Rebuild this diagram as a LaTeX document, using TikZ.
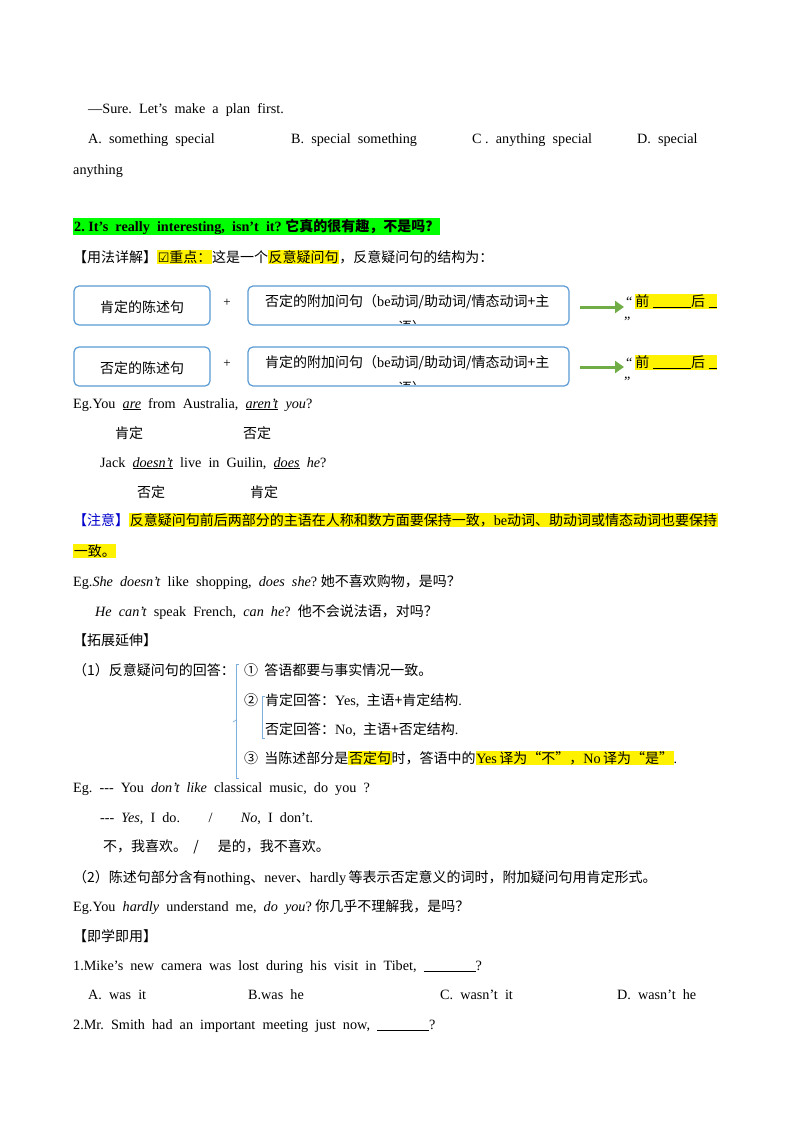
\documentclass[tikz,border=0pt]{standalone}
\usepackage{fontspec}
\setmainfont{Liberation Serif}
\newfontfamily\cjk{Noto Sans CJK SC}
\newfontfamily\dv{DejaVu Sans}
\newcommand\zh[1]{{\cjk\fontsize{14}{16}\selectfont #1}}
\newcommand\hly[1]{{\setlength\fboxsep{0.6pt}\colorbox{yellow}{#1}}}
\newcommand\dsh{{-}{-}{-}}
\usetikzlibrary{arrows.meta}
\definecolor{boxblue}{RGB}{91,155,213}
\definecolor{arrgreen}{RGB}{112,173,71}
\definecolor{hlgreen}{RGB}{0,255,0}
\tikzset{
 t/.style={anchor=base west,inner sep=0pt,font=\fontsize{14.2}{16}\selectfont},
 box/.style={draw=boxblue,line width=1.2pt,rounded corners=5pt},
 arr/.style={draw=arrgreen,line width=3pt,-{Triangle[length=9pt,width=12pt]}},
 brk/.style={draw=boxblue!80,line width=0.7pt}
}
\begin{document}
\begin{tikzpicture}[x=1pt,y=-1pt]
\useasboundingbox[fill=white] (0,0) rectangle (800,1132);
\node[t] (l1) at (88,113) {—Sure.\ \ Let's\ \ make\ \ a\ \ plan\ \ first.};
\node[t] (o1) at (88,143) {A.\ \ something\ \ special};
\node[t] (o2) at (291,143) {B.\ \ special\ \ something};
\node[t] (o3) at (472,143) {C\ .\ \ anything\ \ special};
\node[t] (o4) at (637,143) {D.\ \ special};
\node[t] (o5) at (73,174) {anything};
\node[t,fill=hlgreen,inner sep=1pt] (title) at (73,231) {\textbf{2.\ It's\ \ really\ \ interesting,\ \ isn't\ \ it?\ }{\cjk\bfseries\fontsize{14}{16}\selectfont 它真的很有趣，不是吗？}};
\node[t] (usage) at (73,262) {\zh{【用法详解】}\hly{{\dv\fontsize{13}{14}\selectfont ☑}\zh{重点：}}\zh{这是一个}\hly{\zh{反意疑问句}}\zh{，反意疑问句的结构为：}};
% row 1
\draw[box] (74,286) rectangle (210,325);
\node (b1) at (142,307) {\zh{肯定的陈述句}};
\node (p1) at (227,303) {\fontsize{13}{14}\selectfont +};
\draw[box] (248,286) rectangle (569,325);
\begin{scope}
\clip (250,288) rectangle (567,323);
\node[t] (b2) at (265,306) {\zh{否定的附加问句（}be\zh{动词/助动词/情态动词+主}};
\node[t] (b2b) at (398,332) {\zh{语）}};
\end{scope}
\coordinate (a1s) at (580,307);
\coordinate (a1e) at (624,307);
\draw[arr] (a1s) -- (a1e);
\node[t] (q1) at (626,306) {“\,\hly{\zh{前}\ \underline{\hspace{38pt}}\zh{后}\ \underline{\hspace{8pt}}}};
\node[t] (q1b) at (624,326) {”};
% row 2
\draw[box] (74,347) rectangle (210,386);
\node (c1) at (142,368) {\zh{否定的陈述句}};
\node (p2) at (227,364) {\fontsize{13}{14}\selectfont +};
\draw[box] (248,347) rectangle (569,386);
\begin{scope}
\clip (250,349) rectangle (567,384);
\node[t] (c2) at (265,367) {\zh{肯定的附加问句（}be\zh{动词/助动词/情态动词+主}};
\node[t] (c2b) at (398,393) {\zh{语）}};
\end{scope}
\coordinate (a2s) at (580,367);
\coordinate (a2e) at (624,367);
\draw[arr] (a2s) -- (a2e);
\node[t] (q2) at (626,367) {“\,\hly{\zh{前}\ \underline{\hspace{38pt}}\zh{后}\ \underline{\hspace{8pt}}}};
\node[t] (q2b) at (624,386) {”};
% examples
\node[t] (e1) at (73,408) {Eg.You\ \ \underline{\textit{are}}\ \ from\ \ Australia,\ \ \underline{\textit{aren't}}\ \ \textit{you}?};
\node[t] (e1a) at (115,438) {\zh{肯定}};
\node[t] (e1b) at (243,438) {\zh{否定}};
\node[t] (e2) at (100,467) {Jack\ \ \underline{\textit{doesn't}}\ \ live\ \ in\ \ Guilin,\ \ \underline{\textit{does}}\ \ \textit{he}?};
\node[t] (e2a) at (137,497) {\zh{否定}};
\node[t] (e2b) at (250,497) {\zh{肯定}};
\node[t] (n1) at (73,525) {{\cjk\color{blue!80!black}\fontsize{14}{16}\selectfont 【注意】}\hly{\zh{反意疑问句前后两部分的主语在人称和数方面要保持一致，}be\zh{动词、助动词或情态动词也要保持}}};
\node[t] (n2) at (73,556) {\hly{\zh{一致。}}};
\node[t] (e3) at (73,586) {Eg.\textit{She\ \ doesn't}\ \ like\ \ shopping,\ \ \textit{does\ \ she}?\ \zh{她不喜欢购物，是吗？}};
\node[t] (e4) at (95,616) {\textit{He\ \ can't}\ \ speak\ \ French,\ \ \textit{can\ \ he}?\ \ \zh{他不会说法语，对吗？}};
\node[t] (ext) at (73,645) {\zh{【拓展延伸】}};
\node[t] (r0) at (73,675) {\zh{（1）反意疑问句的回答：}};
\node[t] (r1) at (244,675) {\zh{①\ \ 答语都要与事实情况一致。}};
\node[t] (r2) at (244,705) {\zh{②}};
\node[t] (r2a) at (265,705) {\zh{肯定回答：}Yes,\ \ \zh{主语+肯定结构}.};
\node[t] (r2b) at (265,734) {\zh{否定回答：}No,\ \ \zh{主语+否定结构}.};
\node[t] (r3) at (244,763) {\zh{③\ \ 当陈述部分是}\hly{\zh{否定句}}\zh{时，答语中的}\hly{Yes\,\zh{译为“不”，}No\,\zh{译为“是”}}.};
\coordinate (k1) at (239,664); \coordinate (k2) at (236,664);
\coordinate (k3) at (236,778); \coordinate (k4) at (239,778);
\draw[brk] (k1) -- (k2) -- (k3) -- (k4);
\coordinate (km1) at (236,720); \coordinate (km2) at (233,722);
\draw[brk] (km1) -- (km2);
\coordinate (j1) at (265,696); \coordinate (j2) at (262,696);
\coordinate (j3) at (262,738); \coordinate (j4) at (265,738);
\draw[brk] (j1) -- (j2) -- (j3) -- (j4);
\node[t] (e5) at (73,792) {Eg.\ \ \dsh\ \ You\ \ \textit{don't\ \ like}\ \ classical\ \ music,\ \ do\ \ you\ \ ?};
\node[t] (e6) at (100,822) {\dsh\ \ \textit{Yes},\ \ I\ \ do.\qquad/\qquad\textit{No},\ \ I\ \ don't.};
\node[t] (e7) at (103,851) {\zh{不，我喜欢。\ \ /\ \ \ \ \ \ 是的，我不喜欢。}};
\node[t] (r4) at (73,882) {\zh{（2）陈述句部分含有}nothing\zh{、}never\zh{、}hardly\,\zh{等表示否定意义的词时，附加疑问句用肯定形式。}};
\node[t] (e8) at (73,911) {Eg.You\ \ \textit{hardly}\ \ understand\ \ me,\ \ \textit{do\ \ you}?\ \zh{你几乎不理解我，是吗？}};
\node[t] (pr) at (73,941) {\zh{【即学即用】}};
\node[t] (q1t) at (73,970) {1.Mike's\ \ new\ \ camera\ \ was\ \ lost\ \ during\ \ his\ \ visit\ \ in\ \ Tibet,\ \ \underline{\hspace{52pt}}?};
\node[t] (qa) at (88,999) {A.\ \ was\ \ it};
\node[t] (qb) at (248,999) {B.was\ \ he};
\node[t] (qc) at (440,999) {C.\ \ wasn't\ \ it};
\node[t] (qd) at (617,999) {D.\ \ wasn't\ \ he};
\node[t] (q2t) at (73,1029) {2.Mr.\ \ Smith\ \ had\ \ an\ \ important\ \ meeting\ \ just\ \ now,\ \ \underline{\hspace{52pt}}?};
\end{tikzpicture}
\end{document}
